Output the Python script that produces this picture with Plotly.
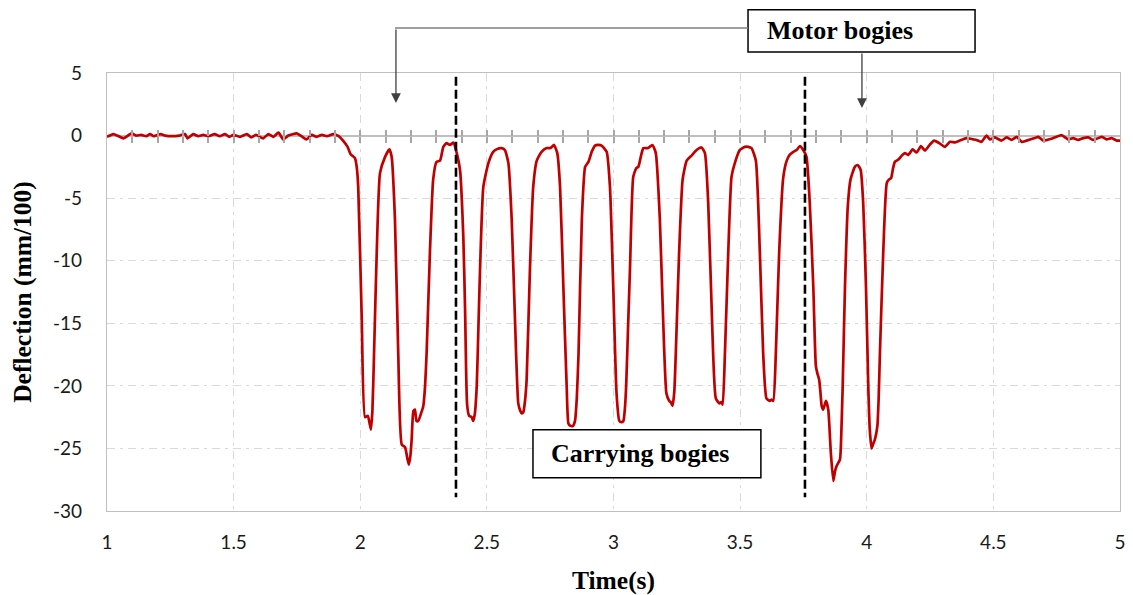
import plotly.graph_objects as go

# ---------------- data ----------------
TIME = [
    1.000, 1.025, 1.045, 1.065, 1.097, 1.115, 1.135, 1.155, 1.170, 1.185,
    1.211, 1.230, 1.255, 1.285, 1.308, 1.318, 1.340, 1.360, 1.380, 1.400,
    1.425, 1.445, 1.466, 1.483, 1.499, 1.525, 1.552, 1.570, 1.588, 1.617,
    1.637, 1.657, 1.677, 1.696, 1.716, 1.749, 1.768, 1.788, 1.808, 1.828,
    1.848, 1.868, 1.894, 1.915, 1.932, 1.950, 1.962, 1.979, 1.986, 1.992,
    2.006, 2.019, 2.030, 2.036, 2.042, 2.048, 2.055, 2.065, 2.078, 2.098,
    2.115, 2.124, 2.137, 2.150, 2.164, 2.177, 2.186, 2.192, 2.198, 2.203,
    2.210, 2.216, 2.222, 2.229, 2.240, 2.249, 2.256, 2.262, 2.275, 2.288,
    2.301, 2.315, 2.328, 2.341, 2.354, 2.368, 2.381, 2.394, 2.407, 2.414,
    2.422, 2.430, 2.440, 2.446, 2.452, 2.460, 2.467, 2.473, 2.486, 2.506,
    2.525, 2.538, 2.558, 2.571, 2.585, 2.598, 2.611, 2.624, 2.632, 2.638,
    2.644, 2.650, 2.657, 2.670, 2.683, 2.697, 2.716, 2.736, 2.749, 2.757,
    2.765, 2.778, 2.789, 2.802, 2.815, 2.822, 2.830, 2.840, 2.848, 2.855,
    2.862, 2.875, 2.888, 2.901, 2.914, 2.927, 2.940, 2.953, 2.973, 2.986,
    2.999, 3.012, 3.023, 3.031, 3.039, 3.045, 3.050, 3.058, 3.065, 3.078,
    3.090, 3.098, 3.110, 3.118, 3.137, 3.146, 3.154, 3.167, 3.183, 3.196,
    3.209, 3.220, 3.226, 3.233, 3.240, 3.246, 3.259, 3.273, 3.289, 3.308,
    3.328, 3.348, 3.361, 3.374, 3.387, 3.404, 3.418, 3.425, 3.431, 3.440,
    3.453, 3.466, 3.479, 3.499, 3.519, 3.532, 3.545, 3.562, 3.578, 3.591,
    3.604, 3.617, 3.624, 3.631, 3.641, 3.654, 3.670, 3.684, 3.697, 3.710,
    3.723, 3.736, 3.749, 3.762, 3.775, 3.789, 3.799, 3.805, 3.812, 3.817,
    3.822, 3.828, 3.834, 3.839, 3.848, 3.858, 3.868, 3.875, 3.881, 3.894,
    3.900, 3.905, 3.914, 3.925, 3.936, 3.953, 3.964, 3.976, 3.986, 3.997,
    4.006, 4.012, 4.019, 4.026, 4.032, 4.042, 4.047, 4.052, 4.065, 4.079,
    4.088, 4.096, 4.104, 4.111, 4.126, 4.138, 4.151, 4.164, 4.181, 4.197,
    4.214, 4.230, 4.250, 4.266, 4.286, 4.309, 4.329, 4.349, 4.368, 4.394,
    4.420, 4.433, 4.453, 4.473, 4.486, 4.506, 4.532, 4.552, 4.572, 4.592,
    4.612, 4.631, 4.664, 4.677, 4.697, 4.730, 4.769, 4.795, 4.815, 4.835,
    4.855, 4.875, 4.895, 4.928, 4.947, 4.967, 4.987, 5.000,
]
DEFLECTION = [
    -0.10, 0.12, -0.04, -0.22, 0.17, 0.00, 0.05, -0.05, 0.12, -0.05,
    0.12, 0.00, -0.05, 0.00, 0.12, -0.22, 0.12, -0.05, 0.05, -0.05,
    0.12, -0.05, 0.12, -0.10, 0.05, -0.10, 0.12, -0.15, 0.05, -0.22,
    0.12, -0.10, 0.23, -0.30, 0.00, 0.17, -0.05, -0.30, 0.05, -0.10,
    0.05, -0.05, 0.12, -0.05, -0.40, -0.90, -1.50, -1.80, -2.50, -4.10,
    -14.7, -22.5, -22.4, -22.9, -23.5, -22.0, -17.0, -9.4, -3.0, -1.7,
    -1.1, -1.7, -6.7, -17.4, -24.7, -24.9, -25.8, -26.3, -25.6, -24.3,
    -22.0, -21.9, -22.8, -22.8, -22.2, -21.6, -20.0, -17.4, -9.4, -3.5,
    -2.1, -2.0, -0.9, -0.6, -0.75, -0.57, -1.4, -2.75, -8.1, -14.0,
    -21.5, -22.4, -22.5, -22.8, -22.3, -20.0, -15.0, -10.7, -4.1, -2.2,
    -1.3, -1.1, -1.0, -1.15, -2.2, -6.7, -14.7, -21.4, -22.0, -22.2,
    -22.1, -21.3, -19.5, -10.7, -4.1, -2.0, -1.3, -1.0, -1.0, -0.9,
    -0.75, -1.4, -4.1, -12.1, -20.0, -23.0, -23.2, -23.2, -22.8, -21.0,
    -17.4, -6.7, -2.5, -2.1, -1.3, -0.8, -0.75, -0.8, -1.3, -4.1,
    -12.1, -20.6, -22.8, -22.9, -22.8, -21.8, -20.0, -15.0, -10.7, -3.3,
    -2.6, -2.5, -1.5, -1.0, -1.0, -0.85, -0.75, -1.4, -6.7, -14.7,
    -20.6, -21.2, -21.3, -21.6, -20.5, -17.4, -9.4, -3.5, -2.0, -1.6,
    -1.15, -0.95, -1.4, -5.4, -13.4, -21.0, -21.4, -21.3, -21.5, -17.4,
    -9.4, -3.3, -2.2, -1.15, -0.9, -0.9, -1.0, -2.0, -9.4, -17.4,
    -21.0, -21.2, -21.1, -21.2, -17.4, -9.4, -3.4, -2.0, -1.5, -1.3,
    -1.15, -0.85, -1.15, -1.7, -5.4, -12.1, -18.4, -19.0, -19.5, -20.5,
    -21.6, -21.9, -21.5, -21.2, -21.9, -25.3, -27.6, -26.8, -26.4, -25.9,
    -23.5, -20.0, -12.1, -5.7, -3.5, -2.5, -2.35, -2.75, -5.4, -12.1,
    -20.0, -23.5, -25.0, -24.6, -24.3, -23.2, -21.0, -17.4, -9.4, -3.8,
    -3.5, -3.4, -2.6, -2.1, -1.9, -1.6, -1.4, -1.55, -1.1, -1.35,
    -0.85, -1.2, -0.7, -0.4, -0.6, -0.9, -0.5, -0.55, -0.4, -0.2,
    -0.3, -0.35, -0.5, 0.0, -0.3, -0.15, -0.4, -0.15, -0.35, -0.1,
    -0.5, -0.4, -0.2, -0.1, -0.4, -0.25, 0.04, -0.3, -0.2, -0.35,
    -0.2, -0.15, -0.35, -0.1, -0.3, -0.2, -0.4, -0.4,
]

X_RANGE = [1, 5]
Y_RANGE = [-30, 5]
X_TICKS = [1, 1.5, 2, 2.5, 3, 3.5, 4, 4.5, 5]
X_TICK_TEXT = ["1", "1.5", "2", "2.5", "3", "3.5", "4", "4.5", "5"]
Y_TICKS = [5, 0, -5, -10, -15, -20, -25, -30]
Y_TICK_TEXT = ["5", "0", "-5", "-10", "-15", "-20", "-25", "-30"]
ZERO_AXIS_TICKS = [round(1 + 0.1 * i, 1) for i in range(1, 40)]

BOGIE_SPLITS = [2.378, 3.756]          # dashed separators (time, s)
SPLIT_SPAN = [4.7, -28.9]              # vertical extent of separators
MOTOR_ARROW_TIPS = [(2.141, 2.6), (3.981, 2.2)]
CARRY_BOX = dict(t0=2.682, t1=3.582, v0=-23.5, v1=-27.35)

RED = "#C00000"
GRID = "#d9d9d9"
FRAME = "#bfbfbf"
SERIF = "Liberation Serif"
SANS = "Lato"

fig = go.Figure()
fig.add_trace(go.Scatter(
    x=TIME, y=DEFLECTION, mode="lines",
    line=dict(color=RED, width=2.7, shape="spline", smoothing=0.5),
    showlegend=False, hoverinfo="x+y"))

# helper traces so the overlaid tick axes are rendered
for ax in ("x2", "x3"):
    fig.add_trace(go.Scatter(x=X_RANGE, y=[0, 0], xaxis=ax, yaxis="y",
                             mode="lines", line=dict(width=0),
                             showlegend=False, hoverinfo="skip"))

zero_pos = (0 - Y_RANGE[0]) / (Y_RANGE[1] - Y_RANGE[0])

grid_dash = "8px,5px,3px,5px"
fig.update_layout(
    width=1125, height=587,
    margin=dict(l=99, r=13, t=65, b=84),
    paper_bgcolor="white", plot_bgcolor="white",
    xaxis=dict(
        range=X_RANGE, tickvals=X_TICKS, ticktext=X_TICK_TEXT,
        showgrid=True, gridcolor=GRID, griddash=grid_dash, gridwidth=1,
        showline=True, linecolor=FRAME, linewidth=1.2, mirror=True,
        ticks="outside", ticklen=14, tickcolor="rgba(0,0,0,0)",
        tickfont=dict(family=SANS, size=19, color="#1a1a1a"),
        ticklabeloverflow="allow",
        zeroline=False, automargin=False,
        title=dict(text="<b>Time(s)</b>", standoff=20,
                   font=dict(family=SERIF, size=25.5, color="black")),
    ),
    yaxis=dict(
        range=Y_RANGE, tickvals=Y_TICKS, ticktext=Y_TICK_TEXT,
        showgrid=True, gridcolor=GRID, griddash=grid_dash, gridwidth=1,
        showline=True, linecolor=FRAME, linewidth=1.2, mirror=True,
        ticks="outside", ticklen=20, tickcolor="rgba(0,0,0,0)",
        tickfont=dict(family=SANS, size=19, color="#1a1a1a"),
        ticklabeloverflow="allow",
        zeroline=True, zerolinecolor=FRAME, zerolinewidth=1.6,
        automargin=False,
        title=dict(text="<b>Deflection (mm/100)</b>", standoff=14,
                   font=dict(family=SERIF, size=25.5, color="black")),
    ),
    xaxis2=dict(range=X_RANGE, overlaying="x", anchor="free",
                position=zero_pos, tickvals=ZERO_AXIS_TICKS,
                ticks="outside", ticklen=6, tickwidth=1.5, tickcolor="#a6a6a6",
                showticklabels=False, showgrid=False, showline=False,
                zeroline=False),
    xaxis3=dict(range=X_RANGE, overlaying="x", anchor="free",
                position=zero_pos, tickvals=ZERO_AXIS_TICKS,
                ticks="inside", ticklen=6, tickwidth=1.5, tickcolor="#a6a6a6",
                showticklabels=False, showgrid=False, showline=False,
                zeroline=False, side="bottom"),
)

# dashed separators between motor and carrying bogies
for t in BOGIE_SPLITS:
    fig.add_shape(type="line", xref="x", yref="y", x0=t, x1=t,
                  y0=SPLIT_SPAN[0], y1=SPLIT_SPAN[1],
                  line=dict(color="black", width=2.6, dash="9px,4px"))

# "Motor bogies" box above plot (paper coords)
fig.add_shape(type="rect", xref="paper", yref="paper",
              x0=0.6328, x1=0.8569, y0=1.0479, y1=1.1445,
              line=dict(color="black", width=1.5), fillcolor="white")
fig.add_annotation(xref="paper", yref="paper", x=0.6496, y=1.097,
                   xanchor="left", yanchor="middle", showarrow=False,
                   text="<b>Motor bogies</b>",
                   font=dict(family=SERIF, size=26, color="black"))
# elbow connector from box to first motor bogie
fig.add_shape(type="line", xref="paper", yref="paper",
              x0=0.6328, x1=0.2843, y0=1.1027, y1=1.1027,
              line=dict(color="#7f7f7f", width=1.3))
fig.add_annotation(xref="x", yref="y", x=MOTOR_ARROW_TIPS[0][0],
                   y=MOTOR_ARROW_TIPS[0][1], ax=0, ay=-75, text="",
                   showarrow=True, arrowhead=2, arrowsize=1.5,
                   arrowwidth=1.3, arrowcolor="#404040")
fig.add_annotation(xref="x", yref="y", x=MOTOR_ARROW_TIPS[1][0],
                   y=MOTOR_ARROW_TIPS[1][1], ax=0, ay=-56, text="",
                   showarrow=True, arrowhead=2, arrowsize=1.5,
                   arrowwidth=1.3, arrowcolor="#404040")

# "Carrying bogies" box inside plot
fig.add_shape(type="rect", xref="x", yref="y",
              x0=CARRY_BOX["t0"], x1=CARRY_BOX["t1"],
              y0=CARRY_BOX["v0"], y1=CARRY_BOX["v1"],
              line=dict(color="black", width=1.5), fillcolor="white")
fig.add_annotation(xref="x", yref="y", x=CARRY_BOX["t0"] + 0.064,
                   y=(CARRY_BOX["v0"] + CARRY_BOX["v1"]) / 2,
                   xanchor="left", yanchor="middle", showarrow=False,
                   text="<b>Carrying bogies</b>",
                   font=dict(family=SERIF, size=26, color="black"))

fig.write_html("out.html")
